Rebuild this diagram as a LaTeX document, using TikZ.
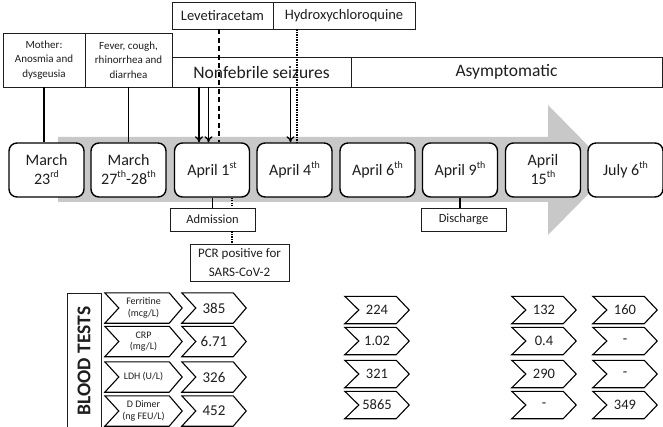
\documentclass[tikz,border=0pt]{standalone}
\usepackage{fontspec}
\setmainfont{Carlito}
\usetikzlibrary{arrows.meta,calc}
\definecolor{arrowgray}{RGB}{200,200,200}
\definecolor{ink}{RGB}{30,30,30}
\newcommand\fs[2]{\fontsize{#1}{#2}\selectfont}
\newcommand\supr[1]{\raisebox{0.45em}{\fontsize{10}{10}\selectfont #1}}
\tikzset{
  datebox/.style={draw=black, line width=1.4pt, rounded corners=8pt, minimum width=75pt, minimum height=54pt, fill=white, align=center, font=\fs{16}{19}, inner sep=0pt, text=ink},
  plainbox/.style={draw=ink, line width=0.9pt, fill=white, align=center, inner sep=0pt, text=ink},
  conn/.style={line width=1.3pt, draw=black},
  arr/.style={conn, -{To[length=6pt,width=8pt]}},
  dashline/.style={line width=1.4pt, dash pattern=on 5pt off 3.5pt},
  dotline/.style={line width=1.3pt, dash pattern=on 1.2pt off 1.3pt},
  chevline/.style={draw=black, line width=1.1pt, line join=miter},
}
\newcommand\chev[7]{%
  \node[inner sep=0pt, minimum width=#4, minimum height=#5, font=#7, align=center, text=ink] (#1) at (#2,#3) {#6};
  \draw[chevline] (#1.north west) -- ([xshift=-13pt]#1.north east) -- (#1.east) -- ([xshift=-13pt]#1.south east) -- (#1.south west) -- ([xshift=14pt]#1.west) -- cycle;
}
\begin{document}
\begin{tikzpicture}[x=1pt,y=-1pt]
\useasboundingbox (0,0) rectangle (663,427);
% big gray arrow
\fill[arrowgray] (58,137) -- (548,137) -- (548,105) -- (612,170) -- (548,235) -- (548,202) -- (58,202) -- cycle;

% top boxes
\node[plainbox, minimum width=101pt, minimum height=27pt, font=\fs{14.5}{17}] (lev) at (222.5,15.5) {Levetiracetam};
\node[plainbox, minimum width=142pt, minimum height=27pt, font=\fs{14.5}{17}] (hyd) at (344,15.5) {Hydroxychloroquine};
\node[plainbox, minimum width=82pt, minimum height=54pt, font=\fs{11}{14.5}] (mother) at (44,60) {Mother:\\Anosmia and\\dysgeusia};
\node[plainbox, minimum width=87pt, minimum height=54pt, font=\fs{11}{14.5}] (fever) at (128.5,60) {Fever, cough,\\rhinorrhea and\\diarrhea};
\node[plainbox, minimum width=179pt, minimum height=30pt, font=\fs{17.5}{20}] (nf) at (261.5,72) {Nonfebrile seizures};
\node[plainbox, minimum width=311pt, minimum height=30pt, font=\fs{17.5}{20}] (asym) at (506.5,72) {Asymptomatic};

% dates
\node[datebox] (d1) at (46.5,170) {March\\23\supr{rd}};
\node[datebox] (d2) at (128.5,170) {March\\27\supr{th}-28\supr{th}};
\node[datebox] (d3) at (212,170) {April 1\supr{st}};
\node[datebox] (d4) at (294.5,170) {April 4\supr{th}};
\node[datebox] (d5) at (377.5,170) {April 6\supr{th}};
\node[datebox] (d6) at (460,170) {April 9\supr{th}};
\node[datebox] (d7) at (543,170) {April\\15\supr{th}};
\node[datebox] (d8) at (625.5,170) {July 6\supr{th}};

% lower boxes
\coordinate (p1) at ($(d3.south)+(20,0)$);
\node[plainbox, minimum width=85pt, minimum height=23pt, font=\fs{12.5}{15}] (adm) at (212.5,219.5) {Admission};
\node[plainbox, minimum width=99pt, minimum height=37pt, font=\fs{13}{18.5}] (pcr) at (239.5,262.5) {PCR positive for\\SARS-CoV-2};
\node[plainbox, minimum width=85pt, minimum height=23pt, font=\fs{12.5}{15}] (dis) at (463.5,219.5) {Discharge};

% connectors
\draw[conn] (mother.south) -- (mother.south |- d1.north);
\draw[conn] (fever.south) -- (fever.south |- d2.north);
\coordinate (a1) at ($(d3.north)+(-13,0)$);
\coordinate (a2) at ($(d3.north)+(-3.5,0)$);
\coordinate (a3) at ($(d4.north)+(-4,0)$);
\coordinate (t1) at ($(d3.north)+(7,0)$);
\coordinate (t2) at ($(d4.north)+(2.5,0)$);
\draw[arr] (a1 |- nf.south) -- (a1);
\draw[arr] (a2 |- nf.south) -- (a2);
\draw[arr] (a3 |- nf.south) -- (a3);
\draw[dashline] (t1 |- lev.south) -- (t1);
\draw[dotline] (t2 |- hyd.south) -- (t2);
\draw[conn, line width=1.1pt] (adm.north) -- (adm.north |- d3.south);
\draw[dotline] (p1) -- (p1 |- adm.north);
\draw[dotline] (p1 |- adm.south) -- (p1 |- pcr.north);
\draw[conn, line width=1.1pt] (d6.south) -- (d6.south |- dis.north);

% blood tests
\node[plainbox, rotate=90, minimum width=136pt, minimum height=34pt, font=\bfseries\fs{19.5}{22}] (blood) at (84,361) {BLOOD TESTS};

\chev{lf}{143.5}{308}{77pt}{30pt}{Ferritine\\(mcg/L)}{\fs{10}{11.5}}
\chev{lc}{143.5}{341.5}{77pt}{30pt}{CRP\\(mg/L)}{\fs{10}{11.5}}
\chev{ll}{143.5}{377}{77pt}{30pt}{LDH (U/L)}{\fs{10}{11.5}}
\chev{ld}{143.5}{411}{77pt}{30pt}{D Dimer\\(ng FEU/L)}{\fs{10}{11.5}}

\chev{v1a}{214}{308}{64pt}{30pt}{385}{\fs{15}{17}}
\chev{v1b}{214}{341.5}{64pt}{30pt}{6.71}{\fs{15}{17}}
\chev{v1c}{214}{377}{64pt}{30pt}{326}{\fs{15}{17}}
\chev{v1d}{214}{411}{64pt}{30pt}{452}{\fs{15}{17}}

\chev{v2a}{377}{310}{64pt}{27pt}{224}{\fs{14.5}{17}}
\chev{v2b}{377}{341}{64pt}{27pt}{1.02}{\fs{14.5}{17}}
\chev{v2c}{377}{374}{64pt}{27pt}{321}{\fs{14.5}{17}}
\chev{v2d}{377}{405}{64pt}{27pt}{5865}{\fs{14.5}{17}}

\chev{v3a}{544}{310}{64pt}{27pt}{132}{\fs{14.5}{17}}
\chev{v3b}{544}{341}{64pt}{27pt}{0.4}{\fs{14.5}{17}}
\chev{v3c}{544}{374}{64pt}{27pt}{290}{\fs{14.5}{17}}
\chev{v3d}{544}{405}{64pt}{27pt}{-}{\fs{14.5}{17}}

\chev{v4a}{625}{310}{64pt}{27pt}{160}{\fs{14.5}{17}}
\chev{v4b}{625}{341}{64pt}{27pt}{-}{\fs{14.5}{17}}
\chev{v4c}{625}{374}{64pt}{27pt}{-}{\fs{14.5}{17}}
\chev{v4d}{625}{405}{64pt}{27pt}{349}{\fs{14.5}{17}}
\end{tikzpicture}
\end{document}
